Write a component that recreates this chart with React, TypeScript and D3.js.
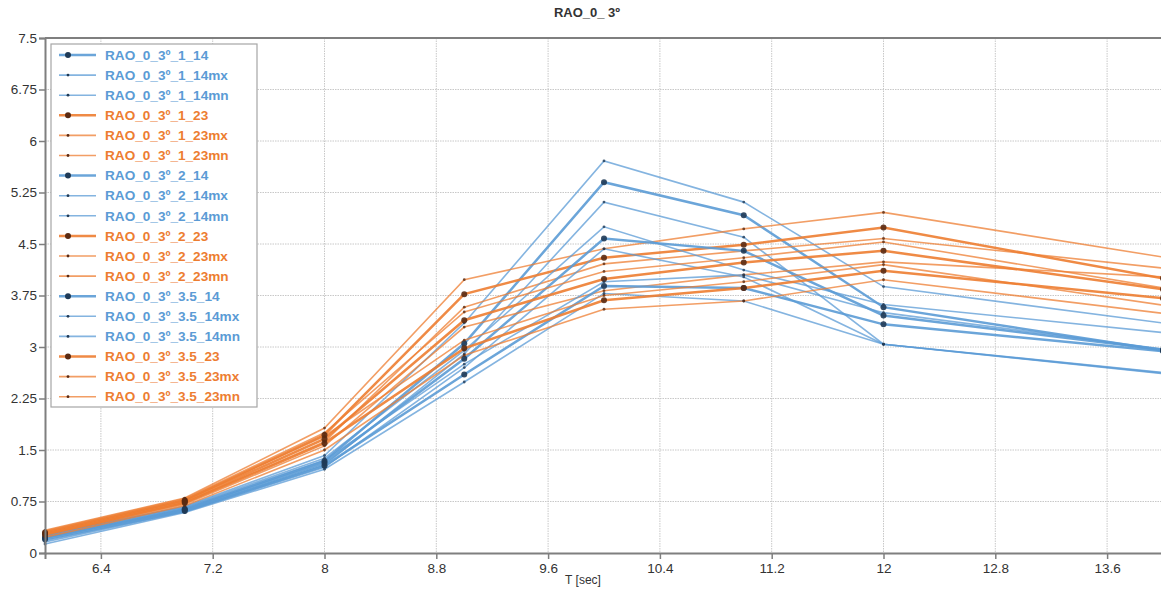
import {useEffect, useRef} from "react";
import * as d3 from "d3";

// periods T [sec] and tick labels
const periods = [6, 7, 8, 9, 10, 11, 12, 14];
const xTicks = [6.4, 7.2, 8, 8.8, 9.6, 10.4, 11.2, 12, 12.8, 13.6];
const yTicks = [0, 0.75, 1.5, 2.25, 3, 3.75, 4.5, 5.25, 6, 6.75, 7.5];

// blue series (_14)
const rao1_14 = [0.23, 0.64, 1.34, 3.05, 5.4, 4.92, 3.58, 2.95];
const rao1_14mx = [0.27, 0.68, 1.42, 3.35, 5.71, 5.11, 3.88, 3.35];
const rao1_14mn = [0.18, 0.61, 1.28, 2.9, 5.11, 4.6, 3.04, 2.62];
const rao2_14 = [0.22, 0.63, 1.31, 2.83, 4.58, 4.4, 3.46, 2.96];
const rao2_14mx = [0.26, 0.67, 1.38, 2.95, 4.75, 4.12, 3.62, 3.21];
const rao2_14mn = [0.16, 0.6, 1.25, 2.7, 4.43, 4.02, 3.04, 2.63];
const rao35_14 = [0.2, 0.61, 1.27, 2.6, 3.89, 3.86, 3.33, 2.94];
const rao35_14mx = [0.25, 0.66, 1.35, 2.75, 3.95, 4.05, 3.5, 2.97];
const rao35_14mn = [0.13, 0.59, 1.22, 2.49, 3.78, 3.67, 3.04, 2.61];

// orange series (_23)
const rao1_23 = [0.3, 0.77, 1.72, 3.77, 4.3, 4.49, 4.74, 4.0];
const rao1_23mx = [0.33, 0.8, 1.82, 3.98, 4.43, 4.72, 4.96, 4.31];
const rao1_23mn = [0.26, 0.73, 1.62, 3.58, 4.21, 4.4, 4.58, 4.15];
const rao2_23 = [0.28, 0.75, 1.66, 3.39, 3.99, 4.23, 4.4, 3.84];
const rao2_23mx = [0.32, 0.79, 1.75, 3.51, 4.1, 4.3, 4.53, 3.86];
const rao2_23mn = [0.25, 0.71, 1.56, 3.29, 3.82, 4.05, 4.24, 4.02];
const rao35_23 = [0.27, 0.73, 1.6, 2.98, 3.68, 3.86, 4.11, 3.71];
const rao35_23mx = [0.31, 0.77, 1.7, 3.1, 3.75, 3.95, 4.2, 3.61];
const rao35_23mn = [0.23, 0.69, 1.5, 2.88, 3.55, 3.67, 3.98, 3.49];

const seriesNames = [
    "RAO_0_3º_1_14", "RAO_0_3º_1_14mx", "RAO_0_3º_1_14mn",
    "RAO_0_3º_1_23", "RAO_0_3º_1_23mx", "RAO_0_3º_1_23mn",
    "RAO_0_3º_2_14", "RAO_0_3º_2_14mx", "RAO_0_3º_2_14mn",
    "RAO_0_3º_2_23", "RAO_0_3º_2_23mx", "RAO_0_3º_2_23mn",
    "RAO_0_3º_3.5_14", "RAO_0_3º_3.5_14mx", "RAO_0_3º_3.5_14mn",
    "RAO_0_3º_3.5_23", "RAO_0_3º_3.5_23mx", "RAO_0_3º_3.5_23mn",
];
const seriesValues = [
    rao1_14, rao1_14mx, rao1_14mn,
    rao1_23, rao1_23mx, rao1_23mn,
    rao2_14, rao2_14mx, rao2_14mn,
    rao2_23, rao2_23mx, rao2_23mn,
    rao35_14, rao35_14mx, rao35_14mn,
    rao35_23, rao35_23mx, rao35_23mn,
];

const BLUE = "#5b9bd5";
const ORANGE = "#ed7d31";
const FONT = "Liberation Sans, Arial, sans-serif";

export default function App() {
    const ref = useRef<SVGSVGElement | null>(null);

    useEffect(() => {
        const el = ref.current;
        if(!el) return;
        document.body.style.margin = "0";
        const svg = d3.select(el);
        svg.selectAll("*").remove();

        const width = 1161;
        const height = 594;
        const margin = {top: 38, left: 45, bottom: 41};

        const x = d3.scaleLinear().domain([6, 14]).range([margin.left, 1163]);
        const y = d3.scaleLinear().domain([0, 7.5]).range([height - margin.bottom, margin.top]);

        const series = seriesNames.map((name, i) => ({
            name,
            values: seriesValues[i],
            color: name.includes("_14") ? BLUE : ORANGE,
            main: !name.endsWith("mx") && !name.endsWith("mn"),
        }));

        // title
        svg.append("text")
            .attr("x", 587).attr("y", 17)
            .attr("text-anchor", "middle")
            .attr("font-family", FONT).attr("font-weight", "bold").attr("font-size", 13)
            .attr("fill", "#333")
            .text("RAO_0_ 3º");

        // gridlines
        const grid = svg.append("g");
        xTicks.forEach((t) => {
            grid.append("line")
                .attr("x1", x(t)).attr("x2", x(t))
                .attr("y1", y(7.5)).attr("y2", y(0))
                .attr("stroke", "#c8c8c8").attr("stroke-dasharray", "1.5,1");
        });
        yTicks.slice(1, -1).forEach((t) => {
            grid.append("line")
                .attr("x1", margin.left).attr("x2", width)
                .attr("y1", y(t)).attr("y2", y(t))
                .attr("stroke", "#c8c8c8").attr("stroke-dasharray", "1.5,1");
        });

        // lines
        const line = d3.line<number>()
            .x((_, i) => x(periods[i]))
            .y((d) => y(d));

        series.forEach((s) => {
            svg.append("path")
                .datum(s.values)
                .attr("d", line)
                .attr("fill", "none")
                .attr("stroke", s.color)
                .attr("stroke-opacity", s.main ? 0.9 : 0.75)
                .attr("stroke-width", s.main ? 2.5 : 1.6);
        });
        series.forEach((s) => {
            svg.append("g")
                .selectAll("circle")
                .data(s.values)
                .join("circle")
                .attr("cx", (_, i) => x(periods[i]))
                .attr("cy", (d) => y(d))
                .attr("r", s.main ? 3 : 1.4)
                .attr("fill", s.color === BLUE ? "#1f3a56" : "#5a2a12")
                .attr("fill-opacity", s.main ? 0.9 : 0.8);
        });

        // axes
        const yAxis = svg.append("g")
            .attr("transform", `translate(${margin.left},0)`)
            .call(d3.axisLeft(y).tickValues(yTicks).tickSize(6).tickFormat((v) => d3.format("")(v as number)));
        yAxis.select(".domain").attr("stroke", "#7f7f7f").attr("stroke-width", 2);
        yAxis.selectAll("line").attr("stroke", "#7f7f7f").attr("stroke-width", 1.5);
        yAxis.selectAll("text")
            .attr("fill", "#333").attr("font-size", 13.5).attr("font-family", FONT).attr("x", -8);

        const xAxis = svg.append("g")
            .attr("transform", `translate(0,${y(0)})`)
            .call(d3.axisBottom(x).tickValues(xTicks).tickSize(6).tickFormat((v) => d3.format("")(v as number)));
        xAxis.select(".domain").attr("stroke", "#7f7f7f").attr("stroke-width", 2);
        xAxis.selectAll("line").attr("stroke", "#7f7f7f").attr("stroke-width", 1.5);
        xAxis.selectAll("text")
            .attr("fill", "#333").attr("font-size", 13.5).attr("font-family", FONT).attr("y", 10);

        // top border
        svg.append("line")
            .attr("x1", margin.left).attr("x2", width)
            .attr("y1", y(7.5)).attr("y2", y(7.5))
            .attr("stroke", "#7f7f7f").attr("stroke-width", 2);

        svg.append("text")
            .attr("x", 583).attr("y", 584)
            .attr("text-anchor", "middle")
            .attr("font-family", FONT).attr("font-size", 12)
            .attr("fill", "#333")
            .text("T [sec]");

        // legend
        const lg = svg.append("g");
        lg.append("rect")
            .attr("x", 51).attr("y", 44).attr("width", 206).attr("height", 363)
            .attr("fill", "#fff").attr("stroke", "#a6a6a6").attr("stroke-width", 1.2);
        series.forEach((s, i) => {
            const yy = 55 + i * 20.1;
            lg.append("line")
                .attr("x1", 59).attr("x2", 96).attr("y1", yy).attr("y2", yy)
                .attr("stroke", s.color).attr("stroke-opacity", s.main ? 0.9 : 0.75)
                .attr("stroke-width", s.main ? 2.5 : 1.6);
            lg.append("circle")
                .attr("cx", 68).attr("cy", yy).attr("r", s.main ? 3 : 1.4)
                .attr("fill", s.color === BLUE ? "#1f3a56" : "#5a2a12");
            lg.append("text")
                .attr("x", 105).attr("y", yy).attr("dy", "0.35em")
                .attr("font-family", FONT).attr("font-weight", "bold").attr("font-size", 13.6)
                .attr("fill", s.color)
                .text(s.name);
        });
    }, []);

    return <svg ref={ref} width={1161} height={594} style={{display: "block"}} />;
}
